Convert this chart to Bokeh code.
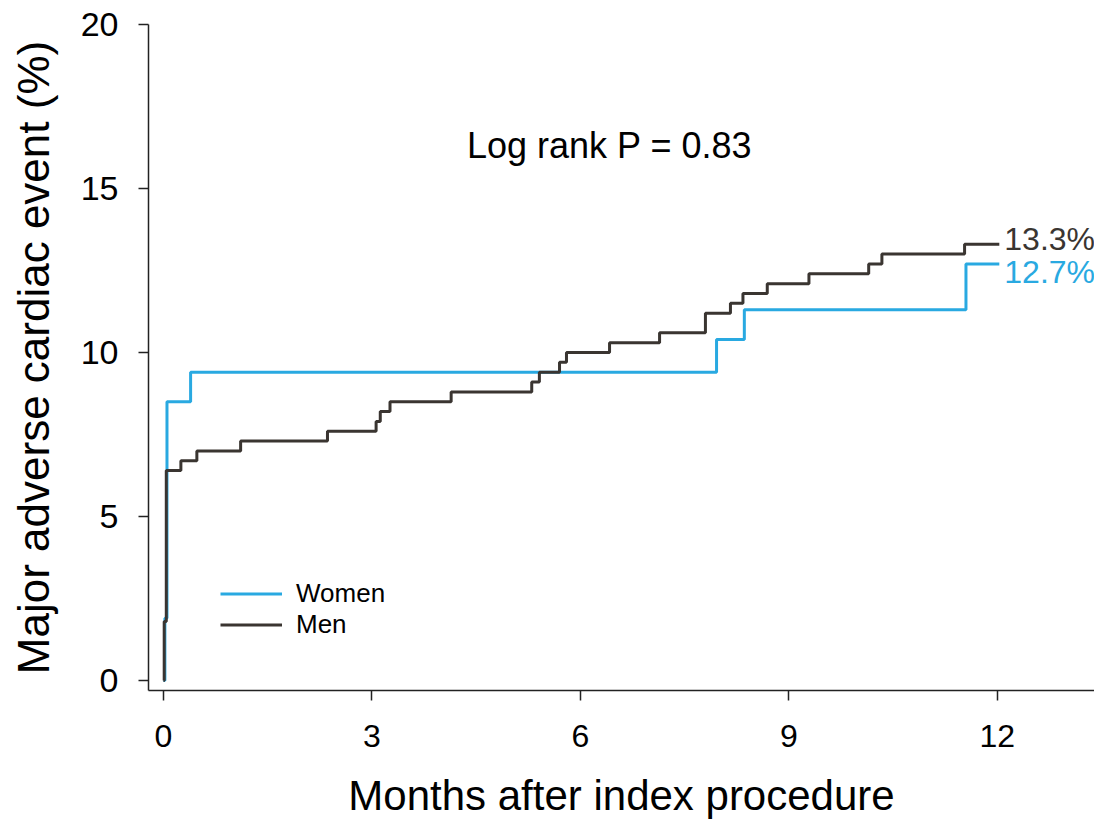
from bokeh.plotting import figure
from bokeh.models import FixedTicker, Range1d, Label, Legend, LegendItem
from bokeh.embed import file_html
from bokeh.resources import INLINE

# ---- data ----
women_months = [0.0, 0.02, 0.05, 0.39, 7.96, 8.36, 11.55, 12.03]
women_mace = [0.0, 1.9, 8.5, 9.4, 10.4, 11.3, 12.7, 12.7]

men_months = [0.0, 0.01, 0.04, 0.25, 0.48, 1.11, 2.36, 3.06, 3.12, 3.26, 4.14,
              5.30, 5.41, 5.70, 5.80, 6.42, 7.14, 7.80, 8.16, 8.34, 8.69,
              9.29, 10.15, 10.34, 11.53, 12.03]
men_mace = [0.0, 1.8, 6.4, 6.7, 7.0, 7.3, 7.6, 7.9, 8.2, 8.5, 8.8,
            9.1, 9.4, 9.7, 10.0, 10.3, 10.6, 11.2, 11.5, 11.8, 12.1,
            12.4, 12.7, 13.0, 13.3, 13.3]

x_ticks = [0, 3, 6, 9, 12]
y_ticks = [0, 5, 10, 15, 20]
series_names = ["Women", "Men"]
end_labels = ["12.7%", "13.3%"]
p_text = "Log rank P = 0.83"

WOMEN_C = "#29A9E1"
MEN_C = "#3A3531"
FONT = "Liberation Sans"

p = figure(width=1094, height=821, output_backend="svg", toolbar_location=None,
           x_range=Range1d(-0.216, 13.40), y_range=Range1d(-0.304, 20.0),
           min_border_left=148, min_border_top=24, min_border_bottom=130,
           min_border_right=0)
p.outline_line_color = None
p.grid.visible = False
p.background_fill_color = "white"

rw = p.step(women_months, women_mace, mode="after", line_color=WOMEN_C, line_width=3)
rm = p.step(men_months, men_mace, mode="after", line_color=MEN_C, line_width=3)

for ax in (p.xaxis[0], p.yaxis[0]):
    ax.axis_line_width = 1.5
    ax.axis_line_color = "#222222"
    ax.major_tick_line_color = "#222222"
    ax.major_tick_line_width = 1.5
    ax.major_tick_out = 10
    ax.major_tick_in = 0
    ax.minor_tick_line_color = None
    ax.major_label_text_font = FONT
    ax.axis_label_text_font = FONT
    ax.axis_label_text_font_style = "normal"
    ax.major_label_text_color = "black"
    ax.axis_label_text_color = "black"

p.xaxis.ticker = FixedTicker(ticks=x_ticks)
p.yaxis.ticker = FixedTicker(ticks=y_ticks)
p.xaxis.major_label_text_font_size = "32px"
p.yaxis.major_label_text_font_size = "34px"
p.xaxis.major_label_standoff = 24
p.yaxis.major_label_standoff = 20
p.xaxis.axis_label = "Months after index procedure"
p.yaxis.axis_label = "Major adverse cardiac event (%)"
p.xaxis.axis_label_text_font_size = "42px"
p.yaxis.axis_label_text_font_size = "44px"
p.xaxis.axis_label_standoff = 22
p.yaxis.axis_label_standoff = 20

legend = Legend(items=[LegendItem(label=series_names[0], renderers=[rw]),
                       LegendItem(label=series_names[1], renderers=[rm])],
                location=(72, 50), orientation="vertical",
                border_line_color=None, background_fill_alpha=0,
                glyph_width=62, glyph_height=29, label_height=29,
                label_standoff=14, spacing=0, padding=0, margin=0,
                label_text_font=FONT, label_text_font_size="26px",
                label_text_color="black")
p.add_layout(legend, "center")

p.add_layout(Label(x=women_months[-1], y=women_mace[-1], text=end_labels[0],
                   x_offset=5, y_offset=-8, text_color=WOMEN_C,
                   text_font=FONT, text_font_size="32px",
                   text_baseline="middle", text_align="left"))
p.add_layout(Label(x=men_months[-1], y=men_mace[-1], text=end_labels[1],
                   x_offset=5, y_offset=5, text_color=MEN_C,
                   text_font=FONT, text_font_size="32px",
                   text_baseline="middle", text_align="left"))
p.add_layout(Label(x=6.42, y=16.3, text=p_text, text_color="black",
                   text_font=FONT, text_font_size="36px",
                   text_baseline="middle", text_align="center"))

open("out.html", "w").write(file_html(p, INLINE))
